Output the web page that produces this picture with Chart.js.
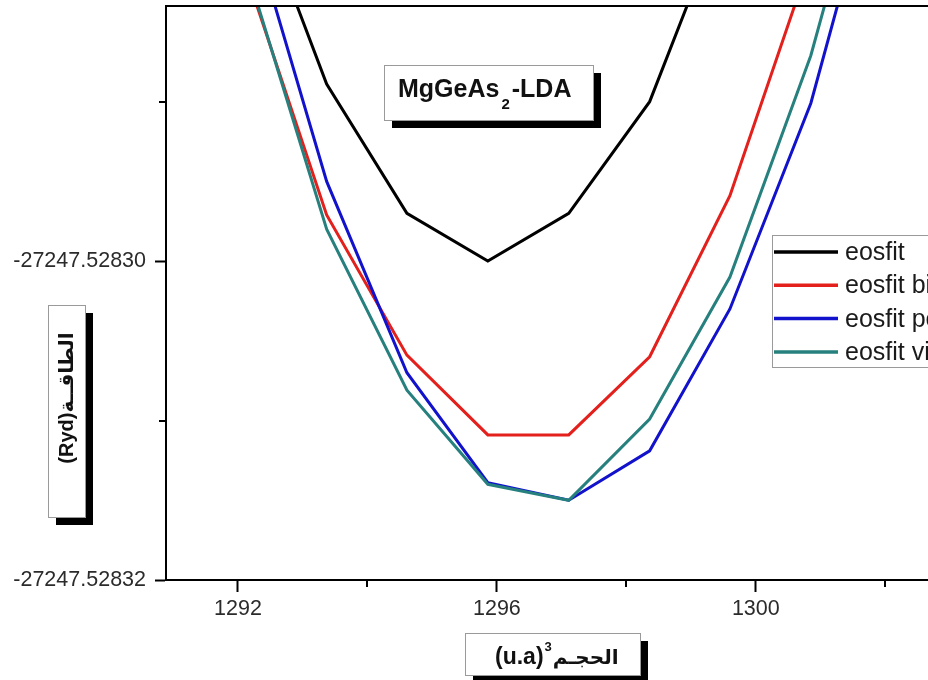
<!DOCTYPE html>
<html>
<head>
<meta charset="utf-8">
<script src="https://cdn.jsdelivr.net/npm/chart.js@4/dist/chart.umd.min.js"></script>
<style>
  body { margin: 0; background: #fff; }
  #energy { display: block; }
</style>
</head>
<body>
<canvas id="energy" width="928" height="680"></canvas>
<script>
// volume (u.a)^3 and total energy (Ryd) for each fit
var volume = [1292.13, 1293.37, 1294.61, 1295.86, 1297.11, 1298.36, 1299.60, 1300.85, 1302.10];
var eosfit = [-27247.5282756, -27247.5282889, -27247.5282970, -27247.5283000, -27247.5282970, -27247.5282900, -27247.5282771, null, null];
var eosfitBirch = [-27247.5282820, -27247.5282971, -27247.5283059, -27247.5283109, -27247.5283109, -27247.5283060, -27247.5282959, -27247.5282810, null];
var eosfitPoirier = [-27247.5282779, -27247.5282950, -27247.5283070, -27247.5283139, -27247.5283150, -27247.5283119, -27247.5283030, -27247.5282901, -27247.5282715];
var eosfitVinet = [-27247.5282816, -27247.5282980, -27247.5283081, -27247.5283140, -27247.5283150, -27247.5283099, -27247.5283010, -27247.5282871, -27247.5282687];

var seriesNames = ["eosfit", "eosfit birch", "eosfit poirier", "eosfit vinet"];
var seriesColors = ['#000000', '#e3201c', '#1212cc', '#26807e'];

var xMajor = [1292, 1296, 1300];
var xMinor = [1294, 1298, 1302];
var yMajor = [-27247.52832, -27247.52830];
var yMinor = [-27247.52831, -27247.52829];

var FONT = 'Arial, "Liberation Sans", "DejaVu Sans", sans-serif';
Chart.defaults.font.family = FONT;

function toPoints(values) {
  var pts = [];
  for (var i = 0; i < volume.length; i++) {
    if (values[i] !== null) pts.push({x: volume[i], y: values[i]});
  }
  return pts;
}

function boxWithShadow(ctx, x, y, w, h, off) {
  ctx.fillStyle = '#000';
  ctx.fillRect(x + off, y + off, w, h);
  ctx.fillStyle = '#fff';
  ctx.fillRect(x, y, w, h);
  ctx.strokeStyle = '#9a9a9a';
  ctx.lineWidth = 1;
  ctx.strokeRect(x + 0.5, y + 0.5, w, h);
}

// frame top, minor ticks, titles and the legend
var decor = {
  id: 'decor',
  afterDraw: function(chart) {
    var ctx = chart.ctx, area = chart.chartArea;
    var xs = chart.scales.x, ys = chart.scales.y;
    ctx.save();

    ctx.strokeStyle = '#000';
    ctx.lineWidth = 2;
    ctx.beginPath();
    ctx.moveTo(area.left - 1, area.top);
    ctx.lineTo(area.right, area.top);
    xMinor.forEach(function(v) {
      var px = Math.round(xs.getPixelForValue(v));
      ctx.moveTo(px, area.bottom);
      ctx.lineTo(px, area.bottom + 7);
    });
    yMinor.forEach(function(v) {
      var py = Math.round(ys.getPixelForValue(v));
      ctx.moveTo(area.left - 7, py);
      ctx.lineTo(area.left, py);
    });
    ctx.stroke();

    // compound label
    boxWithShadow(ctx, 384, 65, 209, 55, 8);
    ctx.fillStyle = '#111';
    ctx.textBaseline = 'alphabetic';
    ctx.textAlign = 'left';
    ctx.font = 'bold 25px ' + FONT;
    var tx = 398;
    ctx.fillText('MgGeAs', tx, 97);
    tx += ctx.measureText('MgGeAs').width + 2;
    ctx.font = 'bold 15px ' + FONT;
    ctx.fillText('2', tx, 109);
    tx += ctx.measureText('2').width + 2;
    ctx.font = 'bold 25px ' + FONT;
    ctx.fillText('-LDA', tx, 97);

    // y axis title
    boxWithShadow(ctx, 48, 305, 37, 212, 8);
    ctx.save();
    ctx.translate(73, 398);
    ctx.rotate(-Math.PI / 2);
    ctx.font = 'bold 20px ' + FONT;
    ctx.textAlign = 'center';
    ctx.fillStyle = '#111';
    ctx.fillText('(Ryd)الطاقــة', 0, 0);
    ctx.restore();

    // x axis title
    boxWithShadow(ctx, 465, 633, 175, 42, 8);
    ctx.fillStyle = '#111';
    ctx.textAlign = 'left';
    ctx.font = 'bold 23px ' + FONT;
    tx = 495;
    ctx.fillText('(u.a)', tx, 664);
    tx += ctx.measureText('(u.a)').width + 1;
    ctx.font = 'bold 13px ' + FONT;
    ctx.fillText('3', tx, 651);
    tx += ctx.measureText('3').width + 1;
    ctx.font = 'bold 20px ' + FONT;
    ctx.fillText('الحجـم', tx, 664);

    // legend
    ctx.fillStyle = '#fff';
    ctx.fillRect(772, 235, 170, 132);
    ctx.strokeStyle = '#9a9a9a';
    ctx.lineWidth = 1;
    ctx.strokeRect(772.5, 235.5, 170, 132);
    ctx.font = '25px ' + FONT;
    chart.data.datasets.forEach(function(ds, i) {
      var ry = 252 + i * 33.3;
      ctx.strokeStyle = ds.borderColor;
      ctx.lineWidth = 3.5;
      ctx.beginPath();
      ctx.moveTo(774, ry);
      ctx.lineTo(838, ry);
      ctx.stroke();
      ctx.fillStyle = '#1a1a1a';
      ctx.fillText(ds.label, 845, ry + 8);
    });

    ctx.restore();
  }
};

var series = [eosfit, eosfitBirch, eosfitPoirier, eosfitVinet];
var datasets = series.map(function(values, i) {
  return {
    label: seriesNames[i],
    data: toPoints(values),
    borderColor: seriesColors[i],
    borderWidth: 3,
    pointRadius: 0,
    tension: 0,
    fill: false,
    order: series.length - 1 - i
  };
});

var config = {
  type: 'line',
  data: { datasets: datasets },
  options: {
    responsive: false,
    animation: false,
    layout: { padding: { top: 6, right: 0, bottom: 0, left: 0 } },
    plugins: {
      legend: { display: false },
      tooltip: { enabled: false }
    },
    scales: {
      x: {
        type: 'linear',
        min: 1290.888,
        max: 1302.66,
        afterBuildTicks: function(scale) {
          scale.ticks = xMajor.map(function(v) { return {value: v}; });
        },
        afterFit: function(scale) { scale.height = 100; },
        grid: { drawOnChartArea: false, tickLength: 12, tickWidth: 2, tickColor: '#000' },
        border: { color: '#000', width: 2 },
        ticks: {
          font: { size: 21.5 },
          color: '#2b2b2b',
          padding: 4,
          maxRotation: 0,
          autoSkip: false,
          callback: function(v) { return String(v); }
        }
      },
      y: {
        type: 'linear',
        min: -27247.52832,
        max: -27247.528284,
        afterBuildTicks: function(scale) {
          scale.ticks = yMajor.map(function(v) { return {value: v}; });
        },
        afterFit: function(scale) {
          scale.width = 166;
          scale.paddingTop = 0;
          scale.paddingBottom = 0;
        },
        grid: { drawOnChartArea: false, tickLength: 11, tickWidth: 2, tickColor: '#000' },
        border: { color: '#000', width: 2 },
        ticks: {
          font: { size: 21.5 },
          color: '#2b2b2b',
          padding: 9,
          autoSkip: false,
          callback: function(v) { return v.toFixed(5); }
        }
      }
    }
  },
  plugins: [decor]
};

window.onload = function() {
  var ctx = document.getElementById("energy").getContext("2d");
  window.energyChart = new Chart(ctx, config);
};
</script>
</body>
</html>
